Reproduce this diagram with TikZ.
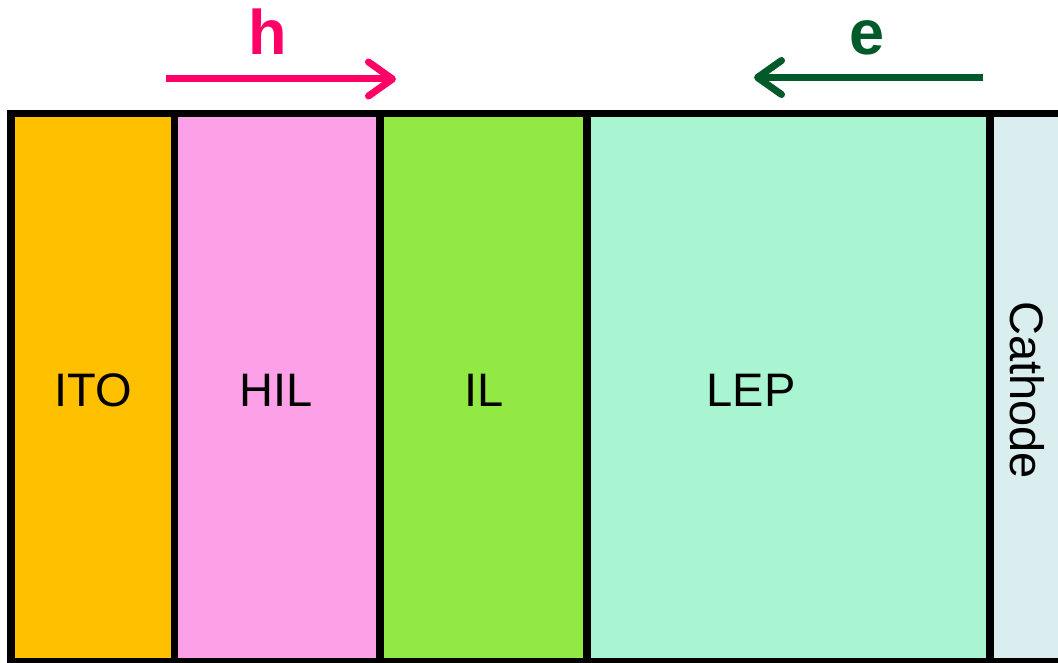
\documentclass[tikz,border=0pt]{standalone}
\usepackage{fontspec}
\setmainfont{Liberation Sans}
\usetikzlibrary{arrows.meta}
\definecolor{itoC}{HTML}{FFC000}
\definecolor{hilC}{HTML}{FCA1E8}
\definecolor{ilC}{HTML}{93E944}
\definecolor{lepC}{HTML}{A9F5D1}
\definecolor{catC}{HTML}{DAEEF0}
\definecolor{holeC}{HTML}{FF0066}
\definecolor{elecC}{HTML}{005A2A}
\tikzset{
  layer/.style={draw=black, line width=7.5pt},
  lbl/.style={font=\fontsize{47}{56}\selectfont, inner sep=0pt},
  carrier/.style={font=\bfseries\fontsize{63}{70}\selectfont, inner sep=0pt, anchor=base},
  flow/.style={line width=7pt, -{Straight Barb[length=24pt,width=34pt,round]}}
}
\begin{document}
\begin{tikzpicture}[x=1pt,y=-1pt]
\useasboundingbox (0,0) rectangle (1058,663);
\fill[white] (0,0) rectangle (1058,663);
\draw[layer, fill=catC] (990,113.5) rectangle (1080,662);
\draw[layer, fill=lepC] (587,113.5) rectangle (990,662);
\draw[layer, fill=ilC] (380,113.5) rectangle (587,662);
\draw[layer, fill=hilC] (174.5,113.5) rectangle (380,662);
\draw[layer, fill=itoC] (11,113.5) rectangle (174.5,662);
\node[lbl] (ito) at (93,390) {ITO};
\node[lbl] (hil) at (276,390) {HIL};
\node[lbl] (il) at (484,390) {IL};
\node[lbl] (lep) at (751,390) {LEP};
\node[lbl, rotate=-90] (cat) at (1027,390) {Cathode};
\coordinate (h0) at (166,79);
\coordinate (h1) at (396,79);
\coordinate (e0) at (983,77.5);
\coordinate (e1) at (754,77.5);
\draw[flow, holeC] (h0) -- (h1);
\draw[flow, elecC] (e0) -- (e1);
\node[carrier, text=holeC] (h) at (268,55) {h};
\node[carrier, text=elecC] (e) at (867,55) {e};
\end{tikzpicture}
\end{document}
